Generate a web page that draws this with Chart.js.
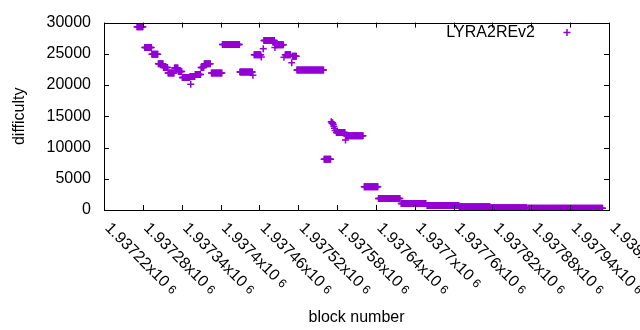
<!DOCTYPE html>
<html><head><meta charset="utf-8">
<script src="https://cdn.jsdelivr.net/npm/chart.js@4"></script>
<style>html,body{margin:0;padding:0;background:#fff}</style>
</head><body>
<canvas id="c" width="640" height="330"></canvas>
<script>
const seriesName = "LYRA2REv2";
const xMin = 1937220, xMax = 1938000, xStep = 60;
const yMin = 0, yMax = 30000, yStep = 5000;
const xTickLabels = ["1.93722","1.93728","1.93734","1.9374","1.93746","1.93752","1.93758",
                     "1.93764","1.9377","1.93776","1.93782","1.93788","1.93794","1.938"];
const xTickExp = "6";
// runs of blocks sharing one difficulty value
const runStart = [1937271,1937283,1937294,1937304,1937312,1937319,1937329,1937335,1937341,1937353,
                  1937361,1937370,1937375,1937386,1937403,1937430,1937452,1937467,1937485,1937500,
                  1937511,1937518,1937560,1937579,1937594,1937622,1937644,1937679,1937719,1937769,
                  1937817,1937875];
const runEnd   = [1937280,1937293,1937303,1937311,1937318,1937328,1937334,1937340,1937352,1937360,
                  1937369,1937374,1937384,1937402,1937429,1937449,1937462,1937483,1937497,1937508,
                  1937517,1937559,1937570,1937592,1937620,1937643,1937677,1937717,1937768,1937816,
                  1937873,1937990];
const runDiff  = [29330,26030,24930,23400,22830,21940,22730,22180,21200,21390,
                  21680,22830,23400,21940,26500,22100,24860,27130,26470,24860,
                  24610,22410,8120,12410,11890,3720,1840,1050,740,520,
                  360,265];
// isolated blocks
const singleBlock = [1937354,1937450,1937463,1937466,1937484,1937498,1937510,1937571,1937572,1937573,
                     1937574,1937575,1937576,1937577,1937593];
const singleDiff  = [20150,21570,24500,25800,26030,24450,23560,14140,13900,13950,
                     13710,13400,13090,12720,11200];

const points = [];
for (let r = 0; r < runStart.length; r++) {
  for (let b = runStart[r]; b <= runEnd[r]; b++) points.push({x: b, y: runDiff[r]});
}
for (let i = 0; i < singleBlock.length; i++) points.push({x: singleBlock[i], y: singleDiff[i]});

const FONT = "Liberation Sans";
const COLOR = "#9400d3";

const gnuplotFrame = {
  id: 'gnuplotFrame',
  afterDraw(chart) {
    const ctx = chart.ctx;
    const {left, right, top, bottom} = chart.chartArea;
    const xs = chart.scales.x, ys = chart.scales.y;
    ctx.save();
    ctx.strokeStyle = '#000';
    ctx.lineWidth = 1;
    ctx.strokeRect(Math.round(left) + 0.5, Math.round(top) + 0.5, Math.round(right - left), Math.round(bottom - top));
    const tl = 5;
    ctx.beginPath();
    ys.ticks.forEach(t => {
      const py = Math.round(ys.getPixelForValue(t.value)) + 0.5;
      ctx.moveTo(left, py); ctx.lineTo(left + tl, py);
      ctx.moveTo(right, py); ctx.lineTo(right - tl, py);
    });
    xs.ticks.forEach(t => {
      const px = Math.round(xs.getPixelForValue(t.value)) + 0.5;
      ctx.moveTo(px, bottom); ctx.lineTo(px, bottom - tl);
      ctx.moveTo(px, top); ctx.lineTo(px, top + tl);
    });
    ctx.stroke();
    // rotated x tick labels
    ctx.fillStyle = '#000';
    xs.ticks.forEach((t, i) => {
      const px = xs.getPixelForValue(t.value);
      const lab = xTickLabels[i];
      if (lab === undefined) return;
      ctx.save();
      ctx.translate(px + 9, 220);
      ctx.rotate(Math.PI / 4);
      ctx.font = "16px '" + FONT + "'";
      ctx.textAlign = 'left';
      ctx.textBaseline = 'top';
      const main = lab + "x10";
      ctx.fillText(main, 0, 0);
      const w = ctx.measureText(main).width;
      ctx.font = "12px '" + FONT + "'";
      ctx.fillText(xTickExp, w + 4, 2);
      ctx.restore();
    });
    // axis titles
    ctx.font = "16px '" + FONT + "'";
    ctx.textAlign = 'center';
    ctx.textBaseline = 'alphabetic';
    ctx.fillText("block number", (left + right) / 2, 322);
    ctx.save();
    ctx.translate(24, (top + bottom) / 2);
    ctx.rotate(-Math.PI / 2);
    ctx.fillText("difficulty", 0, 0);
    ctx.restore();
    // legend
    ctx.textAlign = 'right';
    ctx.fillText(seriesName, 535, 37);
    ctx.strokeStyle = COLOR;
    ctx.lineWidth = 1.5;
    ctx.beginPath();
    ctx.moveTo(563.5, 32.5); ctx.lineTo(570.5, 32.5);
    ctx.moveTo(567, 29); ctx.lineTo(567, 36);
    ctx.stroke();
    ctx.restore();
  }
};

new Chart(document.getElementById('c'), {
  type: 'scatter',
  data: { datasets: [{
    label: seriesName,
    data: points,
    pointStyle: 'cross',
    pointRadius: 3.5,
    pointHoverRadius: 3.5,
    borderColor: COLOR,
    backgroundColor: COLOR,
    borderWidth: 1.5,
    showLine: false
  }]},
  options: {
    responsive: false,
    animation: false,
    devicePixelRatio: 1,
    layout: { padding: { top: 19, right: 31, bottom: 0, left: 0 } },
    plugins: { legend: { display: false }, tooltip: { enabled: false } },
    events: [],
    scales: {
      x: {
        type: 'linear', min: xMin, max: xMax,
        ticks: { stepSize: xStep, display: false },
        grid: { display: false, drawTicks: false },
        border: { display: false },
        afterFit: s => { s.height = 120; }
      },
      y: {
        type: 'linear', min: yMin, max: yMax,
        ticks: { stepSize: yStep, color: '#000', padding: 13, font: { family: FONT, size: 16 },
                 callback: v => String(v) },
        grid: { display: false, drawTicks: false },
        border: { display: false },
        afterFit: s => { s.width = 104; }
      }
    }
  },
  plugins: [gnuplotFrame]
});
</script>
</body></html>
